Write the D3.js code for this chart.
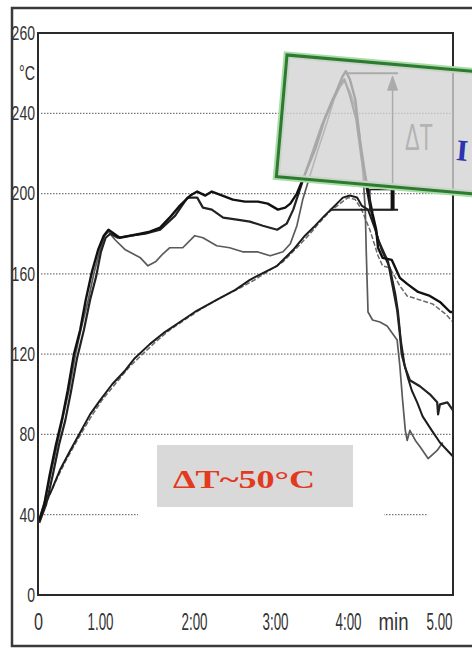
<!DOCTYPE html>
<html>
<head>
<meta charset="utf-8">
<script src="https://cdn.jsdelivr.net/npm/d3@7"></script>
<style>
  body { margin: 0; background: #fff; }
  svg { display: block; }
</style>
</head>
<body>
<div id="chart"></div>
<script>
// datos (tiempo en min, temperatura en °C)
const serie1 = [[0.02,37],[0.10,45],[0.19,60],[0.29,75],[0.39,88],[0.48,102],[0.58,120],[0.68,132],[0.77,147],[0.87,161],[0.97,172],[1.04,179],[1.09,182],[1.15,180],[1.21,178],[1.32,179],[1.43,180],[1.53,181],[1.64,183],[1.74,188],[1.85,194],[1.96,199],[2.04,201],[2.14,199],[2.22,201],[2.35,199],[2.48,197],[2.63,196],[2.79,196],[2.91,195],[3.04,192],[3.14,193],[3.21,195],[3.30,200],[3.38,207],[3.55,222],[3.68,237],[3.82,249],[3.92,258],[3.97,261],[4.02,257],[4.08,247],[4.13,227],[4.19,209],[4.23,199],[4.27,190],[4.31,182],[4.33,173],[4.38,168],[4.48,167],[4.52,163],[4.57,158],[4.65,155],[4.77,151],[4.90,149],[5.01,146],[5.12,141],[5.15,141]];
const serie2 = [[0.02,36],[0.13,45],[0.24,60],[0.34,75],[0.44,87],[0.53,101],[0.63,118],[0.74,132],[0.84,147],[0.94,159],[1.01,171],[1.06,178],[1.11,180],[1.19,178],[1.32,179],[1.48,180],[1.64,182],[1.80,189],[1.93,198],[2.04,198],[2.11,193],[2.22,192],[2.36,188],[2.53,187],[2.69,186],[2.85,184],[3.03,182],[3.16,185],[3.25,192],[3.34,202],[3.48,217],[3.64,234],[3.79,247],[3.89,254],[3.95,257],[4.02,249],[4.09,237],[4.15,217],[4.20,204],[4.24,194],[4.33,177],[4.44,166],[4.49,154],[4.54,142],[4.57,130],[4.59,120],[4.63,113],[4.68,107],[4.79,104],[4.90,100],[4.98,96],[4.99,90],[5.01,95],[5.09,96],[5.15,92]];
const serie3 = [[0.02,38],[0.11,47],[0.21,61],[0.31,75],[0.40,88],[0.50,102],[0.60,119],[0.69,132],[0.81,147],[0.90,160],[1.00,172],[1.05,179],[1.09,181],[1.16,177],[1.27,172],[1.43,168],[1.51,164],[1.59,166],[1.67,170],[1.74,173],[1.88,173],[2.01,179],[2.11,178],[2.28,174],[2.44,173],[2.60,171],[2.78,171],[2.94,169],[3.11,171],[3.21,175],[3.30,184],[3.38,197],[3.48,209],[3.59,222],[3.70,234],[3.81,247],[3.89,253],[3.95,256],[4.02,251],[4.08,243],[4.13,229],[4.16,212],[4.19,192],[4.20,172],[4.22,141],[4.27,137],[4.35,136],[4.43,134],[4.54,127],[4.57,114],[4.60,97],[4.63,82],[4.65,77],[4.68,82],[4.74,77],[4.79,74],[4.88,68],[4.98,72],[5.04,76]];
const serie4 = [[0.02,37],[0.11,45],[0.23,53],[0.35,62],[0.52,72],[0.68,81],[0.84,90],[1.00,97],[1.13,105],[1.27,112],[1.37,118],[1.53,125],[1.69,131],[1.85,136],[2.01,141],[2.28,147],[2.51,152],[2.69,157],[2.88,161],[3.03,164],[3.25,172],[3.41,179],[3.55,184],[3.68,189],[3.82,194],[3.93,198],[4.02,199],[4.10,198],[4.15,194],[4.22,192],[4.30,182],[4.37,172],[4.46,163],[4.52,150],[4.55,141],[4.58,127],[4.62,115],[4.66,108],[4.70,102],[4.76,96],[4.82,89],[4.92,82],[5.01,76],[5.09,72],[5.15,69]];
const serie5 = [[0.02,37],[0.15,47],[0.29,57],[0.45,67],[0.65,78],[0.84,88],[1.02,97],[1.16,105],[1.30,113],[1.43,119],[1.59,126],[1.74,132],[1.90,137],[2.07,142],[2.32,148],[2.57,153],[2.75,157],[2.94,162],[3.11,166],[3.30,173],[3.48,180],[3.62,186],[3.75,191],[3.89,195],[4.00,198],[4.08,197],[4.15,192],[4.24,182],[4.33,169],[4.38,164],[4.46,163],[4.57,154],[4.65,149],[4.79,147],[4.93,145],[5.07,140],[5.15,136]];

const xTicks = [0, 1, 2, 3, 4, 5];
const xTickLabels = ["0", "1.00", "2:00", "3:00", "4:00", "5.00"];
const yTicks = [0, 40, 80, 120, 160, 200, 240, 280];
const yTickLabels = ["0", "40", "80", "120", "160", "200", "240", "260"];
const gridValues = [40, 80, 120, 160, 200, 240];

// anotacion del deltaT (min, °C)
const picoDT = 260;
const baseDT = 192;
const techoRect = 202;
const tFlecha = 4.49;
const tPicoIni = 3.97, tPicoFin = 4.55;
const tBaseIni = 3.75, tRectIni = 4.24;

const W = 472, H = 649;
const svg = d3.select("#chart").append("svg")
  .attr("width", W).attr("height", H);

svg.append("rect").attr("width", W).attr("height", H).attr("fill", "#fff");

// escala x con las marcas tal como estan en la figura
const x = d3.scaleLinear()
  .domain([0, 1, 2, 3, 4, 5, 5.15])
  .range([38, 100, 194, 275, 348, 439, 453]);
const y = d3.scaleLinear().domain([0, 280]).range([595, 33]);

// marco exterior
svg.append("path")
  .attr("d", "M472,8 H12 V646 H472")
  .attr("fill", "none").attr("stroke", "#3a3a3a").attr("stroke-width", 2.5);

// lineas de rejilla punteadas
svg.append("g").selectAll("line").data(gridValues).enter().append("line")
  .attr("x1", x(0) + 3).attr("x2", x(5.15))
  .attr("y1", d => y(d)).attr("y2", d => y(d))
  .attr("stroke", "#777").attr("stroke-width", 1.3)
  .attr("stroke-dasharray", "1.5,1.5");

// tapa blanca bajo la etiqueta
svg.append("rect")
  .attr("x", 138).attr("y", 440).attr("width", 246).attr("height", 90)
  .attr("fill", "#fff");
svg.append("rect")
  .attr("x", x(4.88)).attr("y", y(40) - 4).attr("width", x(5.15) - x(4.88) - 2).attr("height", 8)
  .attr("fill", "#fff");

// caja gris "ΔT~50°C"
svg.append("rect")
  .attr("x", 157).attr("y", 445).attr("width", 196).attr("height", 62)
  .attr("fill", "#d9d9d9");
svg.append("text")
  .attr("x", 173).attr("y", 488)
  .attr("textLength", 142).attr("lengthAdjust", "spacingAndGlyphs")
  .attr("font-family", "Liberation Serif, DejaVu Serif, serif")
  .attr("font-weight", "bold").attr("font-size", 26)
  .attr("fill", "#e2391f")
  .text("ΔT~50°C");

// curvas
const line = d3.line().x(d => x(d[0])).y(d => y(d[1])).curve(d3.curveLinear);
const series = [
  { data: serie5, color: "#6a6a6a", w: 1.5, dash: "5,2" },
  { data: serie3, color: "#5a5a5a", w: 1.7, dash: null },
  { data: serie4, color: "#1c1c1c", w: 2.0, dash: null },
  { data: serie2, color: "#222", w: 2.2, dash: null },
  { data: serie1, color: "#111", w: 2.4, dash: null }
];
svg.append("g").selectAll("path").data(series).enter().append("path")
  .attr("d", d => line(d.data))
  .attr("fill", "none")
  .attr("stroke", d => d.color)
  .attr("stroke-width", d => d.w)
  .attr("stroke-linejoin", "round")
  .attr("stroke-dasharray", d => d.dash);

// anotacion deltaT
const an = svg.append("g").attr("stroke", "#222").attr("fill", "none");
an.append("line")
  .attr("x1", x(tPicoIni)).attr("x2", x(tPicoFin))
  .attr("y1", y(picoDT)).attr("y2", y(picoDT)).attr("stroke-width", 2);
an.append("line")
  .attr("x1", x(tFlecha)).attr("x2", x(tFlecha))
  .attr("y1", y(baseDT)).attr("y2", y(picoDT) + 4).attr("stroke-width", 1.5);
an.append("path")
  .attr("d", `M${x(tFlecha)},${y(picoDT) + 3} l-5,14 l10,0 z`)
  .attr("fill", "#222");
an.append("line")
  .attr("x1", x(tBaseIni)).attr("x2", x(tPicoFin))
  .attr("y1", y(baseDT)).attr("y2", y(baseDT)).attr("stroke-width", 2);
an.append("rect")
  .attr("x", x(tRectIni)).attr("y", y(techoRect))
  .attr("width", x(tFlecha) - x(tRectIni)).attr("height", y(baseDT) - y(techoRect))
  .attr("stroke-width", 1.5);
an.append("line")
  .attr("x1", x(tFlecha)).attr("x2", x(tFlecha))
  .attr("y1", y(baseDT)).attr("y2", y(techoRect))
  .attr("stroke-width", 4).attr("stroke", "#111");
svg.append("text")
  .attr("x", 405).attr("y", 150)
  .attr("textLength", 28).attr("lengthAdjust", "spacingAndGlyphs")
  .attr("font-family", "Liberation Sans, Arial, sans-serif")
  .attr("font-size", 36).attr("fill", "#444")
  .text("ΔT");

// marco del grafico
svg.append("rect")
  .attr("x", x(0)).attr("y", y(280))
  .attr("width", x(5.15) - x(0)).attr("height", y(0) - y(280))
  .attr("fill", "none").attr("stroke", "#2a2a2a").attr("stroke-width", 2);

// ejes
const ejeY = svg.append("g")
  .attr("transform", `translate(${x(0)},0)`)
  .call(d3.axisLeft(y).tickValues(yTicks).tickSize(0).tickPadding(3)
    .tickFormat((d, i) => yTickLabels[i]));
ejeY.select(".domain").remove();
ejeY.selectAll("text")
  .attr("font-family", "Liberation Sans Narrow, Liberation Sans, Arial, sans-serif")
  .attr("font-size", 20).attr("fill", "#333")
  .attr("textLength", (d, i) => yTickLabels[i].length * 7.8)
  .attr("lengthAdjust", "spacingAndGlyphs");

svg.append("text")
  .attr("x", 35).attr("y", 80).attr("text-anchor", "end")
  .attr("textLength", 16).attr("lengthAdjust", "spacingAndGlyphs")
  .attr("font-family", "Liberation Sans, Arial, sans-serif")
  .attr("font-size", 21).attr("fill", "#333")
  .text("°C");

const ejeX = svg.append("g")
  .attr("transform", `translate(0,${y(0)})`)
  .call(d3.axisBottom(x).tickValues(xTicks).tickSize(0).tickPadding(19)
    .tickFormat((d, i) => xTickLabels[i]));
ejeX.select(".domain").remove();
ejeX.selectAll("text")
  .attr("font-family", "Liberation Sans Narrow, Liberation Sans, Arial, sans-serif")
  .attr("font-size", 23).attr("fill", "#333")
  .attr("textLength", (d, i) => xTickLabels[i].length > 1 ? 26 : 9)
  .attr("lengthAdjust", "spacingAndGlyphs");

svg.append("text")
  .attr("x", x(4.5)).attr("y", 630).attr("text-anchor", "middle")
  .attr("textLength", 30).attr("lengthAdjust", "spacingAndGlyphs")
  .attr("font-family", "Liberation Sans Narrow, Liberation Sans, Arial, sans-serif")
  .attr("font-size", 23).attr("fill", "#333")
  .text("min");

// recuadro verde inclinado encima del pico
const caja = svg.append("g").attr("transform", "translate(287,55) rotate(5)");
caja.append("rect")
  .attr("width", 240).attr("height", 122)
  .attr("fill", "none").attr("stroke", "#a8dca8").attr("stroke-width", 7);
caja.append("rect")
  .attr("width", 240).attr("height", 122)
  .attr("fill", "#d2d2d2").attr("fill-opacity", 0.78)
  .attr("stroke", "#2e7a2e").attr("stroke-width", 3);
caja.append("text")
  .attr("x", 177).attr("y", 90)
  .attr("font-family", "Liberation Serif, DejaVu Serif, serif")
  .attr("font-weight", "bold").attr("font-size", 30)
  .attr("fill", "#2a35b0")
  .text("I");
</script>
</body>
</html>
